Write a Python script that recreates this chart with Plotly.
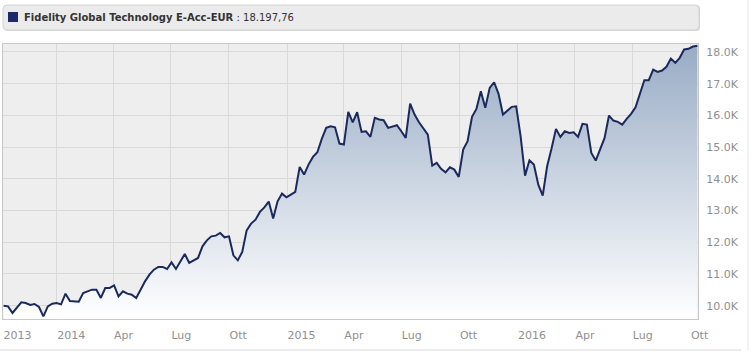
import pandas as pd
import plotly.graph_objects as go

fund_name = "Fidelity Global Technology E-Acc-EUR"
last_value_text = "18.197,76"

values = [
    10000, 9978, 9770, 9927, 10104, 10085, 10022, 10054, 9959, 9662,
    9978, 10063, 10085, 10041, 10379, 10148, 10148, 10126, 10401, 10451,
    10505, 10505, 10243, 10558, 10558, 10640, 10293, 10451, 10379, 10347,
    10243, 10505, 10767, 10978, 11136, 11221, 11221, 11158, 11366, 11158,
    11397, 11631, 11347, 11429, 11505, 11871, 12060, 12186, 12208, 12293,
    12155, 12186, 11587, 11429, 11694, 12375, 12587, 12713, 12956, 13101,
    13281, 12745, 13290, 13533, 13416, 13502, 13587, 14375, 14133, 14448,
    14691, 14836, 15259, 15606, 15656, 15625, 15110, 15079, 16110, 15782,
    16098, 15480, 15499, 15322, 15921, 15868, 15846, 15606, 15647, 15688,
    15499, 15290, 16372, 16025, 15782, 15574, 15394, 14416, 14502, 14312,
    14205, 14363, 14290, 14060, 14921, 15183, 15953, 16205, 16760, 16237,
    16868, 17044, 16678, 16025, 16161, 16268, 16287, 15341, 14101, 14584,
    14448, 13817, 13470, 14394, 14953, 15574, 15322, 15499, 15448, 15467,
    15322, 15732, 15710, 14817, 14574, 14921, 15290, 15994, 15836, 15795,
    15710, 15890, 16047, 16256, 16710, 17107, 17107, 17445, 17372, 17413,
    17530, 17792, 17656, 17814, 18076, 18098, 18170, 18197.76,
]
first_date = "2013-10-09"
dates = pd.date_range(first_date, periods=len(values), freq="7D")

x_tick_dates = ["2013-10-08", "2014-01-01", "2014-04-01", "2014-07-01", "2014-10-01",
                "2015-01-01", "2015-04-01", "2015-07-01", "2015-10-01",
                "2016-01-01", "2016-04-01", "2016-07-01", "2016-10-01"]
x_tick_labels = ["2013", "2014", "Apr", "Lug", "Ott", "2015", "Apr", "Lug", "Ott",
                 "2016", "Apr", "Lug", "Ott"]
y_tick_vals = [10000, 11000, 12000, 13000, 14000, 15000, 16000, 17000, 18000]
y_tick_labels = ["10.0K", "11.0K", "12.0K", "13.0K", "14.0K", "15.0K", "16.0K", "17.0K", "18.0K"]

y_min, y_max = 9580, 18250
x_range = ["2013-10-08", "2016-10-13"]

line_color = "#1b2a5c"
font_family = "DejaVu Sans"

fig = go.Figure()
fig.add_trace(go.Scatter(
    x=dates, y=values, mode="lines",
    line=dict(color=line_color, width=2),
    fill="tozeroy",
    fillgradient=dict(type="vertical", start=y_min, stop=y_max,
                      colorscale=[[0, "#ffffff"], [1, "#98abc5"]]),
    hoverinfo="skip", showlegend=False,
))

# legend-like header box (pixel-sized shape anchored at the plot's top-left)
def rounded_box(x0, y0, x1, y1, r):
    return (f"M{x0+r},{y0} L{x1-r},{y0} Q{x1},{y0} {x1},{y0+r} L{x1},{y1-r} "
            f"Q{x1},{y1} {x1-r},{y1} L{x0+r},{y1} Q{x0},{y1} {x0},{y1-r} "
            f"L{x0},{y0+r} Q{x0},{y0} {x0+r},{y0} Z")

shapes = [
    dict(type="path", xref="paper", yref="paper", xsizemode="pixel", ysizemode="pixel",
         xanchor=0, yanchor=1, path=rounded_box(1, 13, 697, 39, 4),
         fillcolor="#d6d6d6", line=dict(width=0), layer="above"),
    dict(type="path", xref="paper", yref="paper", xsizemode="pixel", ysizemode="pixel",
         xanchor=0, yanchor=1, path=rounded_box(0, 14, 696, 39, 4),
         fillcolor="#ebebeb", line=dict(color="#d4d4d4", width=1), layer="above"),
    dict(type="rect", xref="paper", yref="paper", xsizemode="pixel", ysizemode="pixel",
         xanchor=0, yanchor=1, x0=5, x1=15, y0=22, y1=32,
         fillcolor="#1c2a6a", line=dict(width=0), layer="above"),
    # bottom separator and right border of the page
    dict(type="line", xref="paper", yref="paper", xsizemode="pixel", ysizemode="pixel",
         xanchor=0, yanchor=0, x0=-3, x1=738, y0=-31, y1=-31,
         line=dict(color="#d9d9d9", width=1)),
    dict(type="line", xref="paper", yref="paper", xsizemode="pixel", ysizemode="pixel",
         xanchor=0, yanchor=0, x0=745, x1=745, y0=-31, y1=320,
         line=dict(color="#e6e6e6", width=1)),
]

fig.add_annotation(
    xref="paper", yref="paper", x=0, y=1, xshift=19, yshift=26.5,
    xanchor="left", yanchor="middle", showarrow=False,
    text=f"<b>{fund_name}</b> : {last_value_text}",
    font=dict(family=font_family, size=10, color="#333333"),
)

fig.update_layout(
    width=753, height=358,
    margin=dict(l=3, r=55, t=44, b=39),
    paper_bgcolor="#ffffff", plot_bgcolor="#eeeeee",
    shapes=shapes,
    xaxis=dict(
        type="date", range=x_range,
        tickvals=x_tick_dates, ticktext=x_tick_labels,
        ticklabelposition="outside right", ticks="", ticklabelstandoff=6,
        showgrid=True, gridcolor="#d9d9d9", gridwidth=1,
        showline=True, linecolor="#c8c8c8", mirror=True, zeroline=False,
        tickfont=dict(family=font_family, size=11, color="#909090"),
    ),
    yaxis=dict(
        range=[y_min, y_max], side="right",
        tickvals=y_tick_vals, ticktext=y_tick_labels, ticks="",
        ticklabelstandoff=5,
        showgrid=True, gridcolor="#d9d9d9", gridwidth=1,
        showline=True, linecolor="#c8c8c8", mirror=True, zeroline=False,
        tickfont=dict(family=font_family, size=11, color="#909090"),
    ),
)

fig.write_html(
    "out.html",
    config={"displayModeBar": False},
    post_script="document.body.style.margin='0';document.body.style.overflow='hidden';",
)
